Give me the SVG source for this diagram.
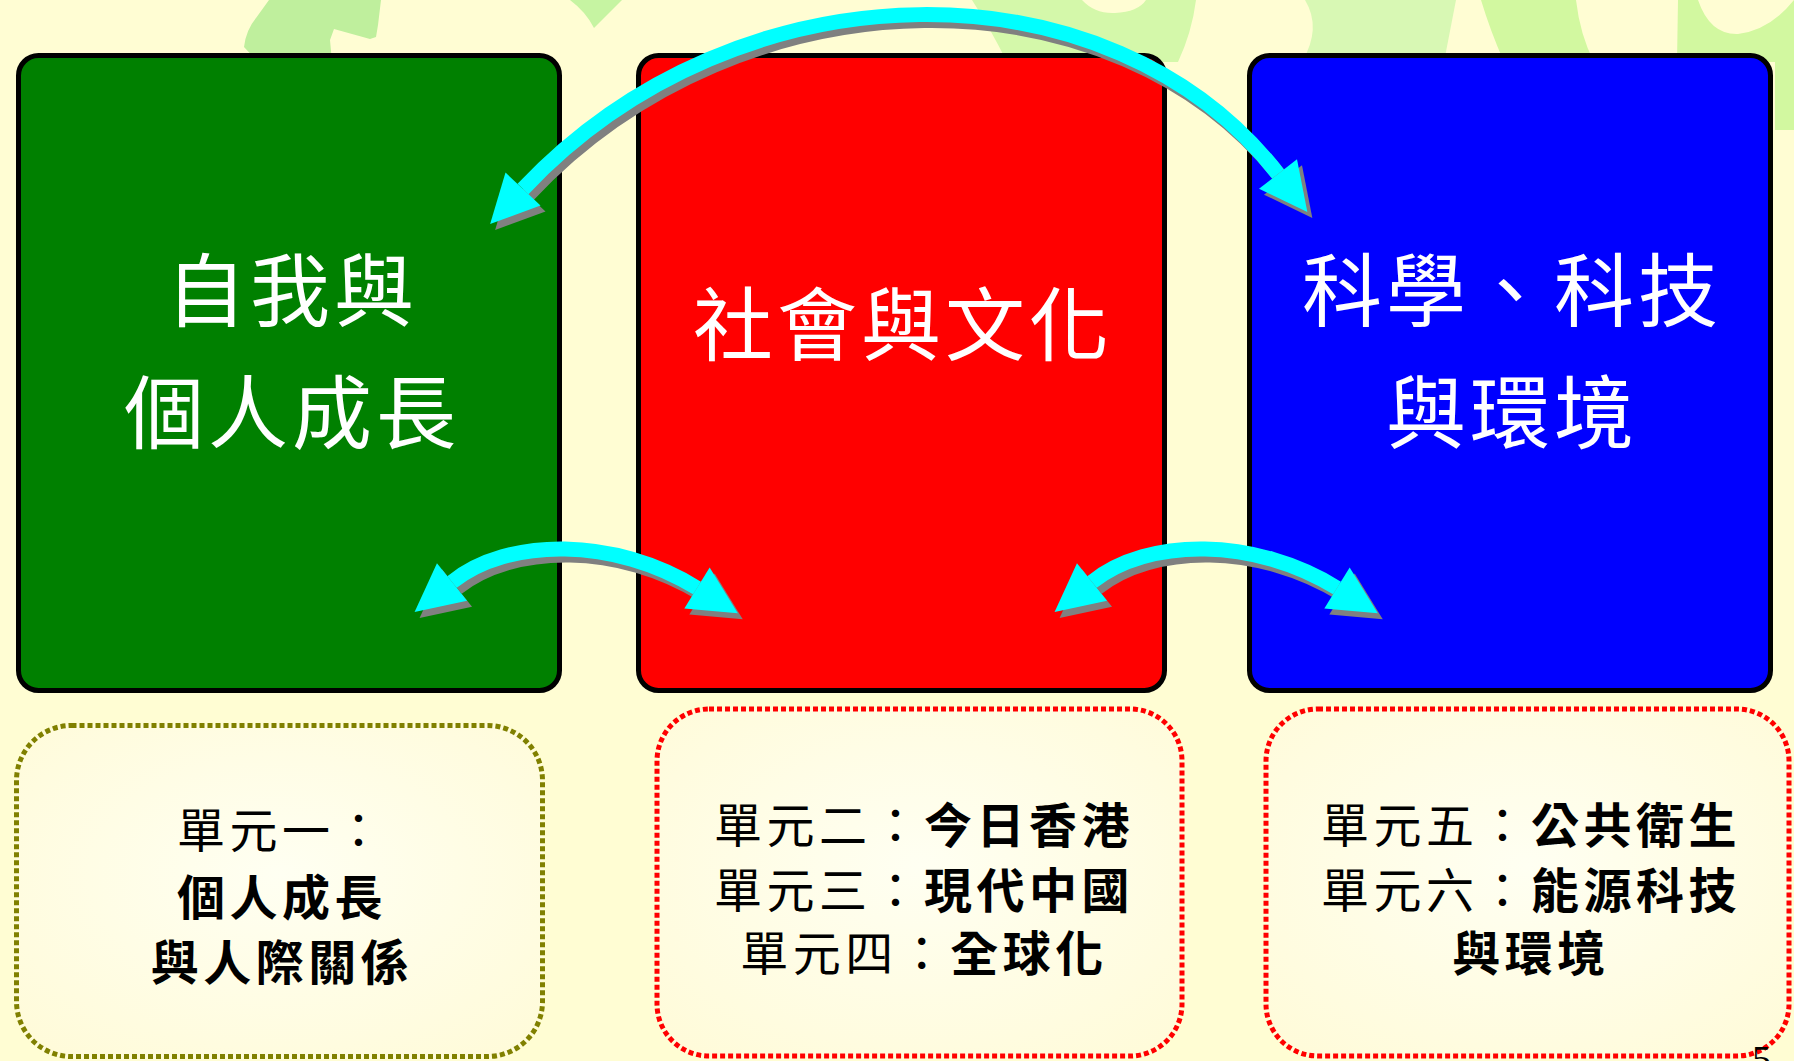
<svg xmlns="http://www.w3.org/2000/svg" width="1794" height="1061" viewBox="0 0 1794 1061">
<defs>
<style>
.bg{fill:#FFFDD3}
.leaf{stroke:none}
.card{stroke:#000;stroke-width:5}
.big{font-family:'Noto Sans CJK TC','Noto Sans CJK SC',sans-serif;font-size:80px;fill:#fff;text-anchor:middle;letter-spacing:4px}
.unit{fill:url(#unitFill);stroke-width:5;stroke-dasharray:5 3}
.sm{font-family:'Noto Sans CJK TC','Noto Sans CJK SC',sans-serif;font-size:48px;fill:#000;text-anchor:middle;letter-spacing:4.5px}
.b{font-weight:bold}
.band{fill:none;stroke-width:15}
.cy{stroke:#00FFFF}
.gy{stroke:#808080}
</style>
<radialGradient id="unitFill" cx="0.5" cy="0.45" r="0.7">
<stop offset="0" stop-color="#FFFFF2"/>
<stop offset="1" stop-color="#FFFBD9"/>
</radialGradient>
<marker id="headC" markerUnits="userSpaceOnUse" viewBox="0 -25 50 50" refX="0" refY="0" markerWidth="50" markerHeight="50" orient="auto-start-reverse" overflow="visible">
<path d="M0,-24 L48,0 L0,24 Z" fill="#00FFFF"/>
</marker>
<marker id="headG" markerUnits="userSpaceOnUse" viewBox="0 -25 50 50" refX="0" refY="0" markerWidth="50" markerHeight="50" orient="auto-start-reverse" overflow="visible">
<path d="M0,-24 L48,0 L0,24 Z" fill="#808080"/>
</marker>
</defs>

<rect class="bg" x="0" y="0" width="1794" height="1061"/>

<g id="background-leaves" class="leaf">
<path fill="#BFEF9D" d="M269,0 L381,0 L378,25 L376,37 L370,39 L334,29 L330,40 L332,62 L258,62 L244,47 Q246,30 256,18 Z"/>
<path fill="#C6F4A2" d="M570,0 Q586,12 594,28 L622,0 Z"/>
<path fill="#D4F8AA" d="M972,0 L1082,0 Q1095,14 1115,13 Q1138,12 1146,0 L1196,0 Q1192,32 1178,62 L1007,62 Q990,28 972,0 Z"/>
<path fill="#D8F8B4" d="M1305,0 L1456,0 L1444,62 L1302,62 Q1322,28 1305,0 Z"/>
<path fill="#D2F8A0" d="M1481,0 L1576,0 Q1580,35 1594,62 L1677,62 L1678,0 L1698,0 Q1710,35 1738,34 Q1770,30 1794,0 L1794,130 L1775,130 L1775,62 L1504,62 Q1490,30 1481,0 Z"/>
</g>

<g id="node-self">
<rect class="card" x="18.5" y="55.5" width="541" height="635" rx="20" fill="#008000"/>
<text class="big" x="292" y="320">自我與</text>
<text class="big" x="292" y="442">個人成長</text>
</g>

<g id="node-society">
<rect class="card" x="638.5" y="55.5" width="526" height="635" rx="20" fill="#FF0000"/>
<text class="big" x="903" y="354">社會與文化</text>
</g>

<g id="node-science">
<rect class="card" x="1249.5" y="55.5" width="521" height="635" rx="20" fill="#0000FF"/>
<text class="big" x="1512" y="320">科學、科技</text>
<text class="big" x="1512" y="442">與環境</text>
</g>

<g id="unit-1">
<rect class="unit" x="16.5" y="725.5" width="526" height="331" rx="55" stroke="#808000"/>
<text class="sm" x="282" y="848">單元一：</text>
<text class="sm b" x="282" y="915">個人成長</text>
<text class="sm b" x="282" y="980">與人際關係</text>
</g>

<g id="unit-2">
<rect class="unit" x="657" y="709" width="525" height="347" rx="52" stroke="#FF0000"/>
<text class="sm" x="924" y="843">單元二：<tspan class="b">今日香港</tspan></text>
<text class="sm" x="924" y="908">單元三：<tspan class="b">現代中國</tspan></text>
<text class="sm" x="924" y="971">單元四：<tspan class="b">全球化</tspan></text>
</g>

<g id="unit-3">
<rect class="unit" x="1266" y="709" width="523" height="347" rx="52" stroke="#FF0000"/>
<text class="sm" x="1531" y="843">單元五：<tspan class="b">公共衛生</tspan></text>
<text class="sm" x="1531" y="908">單元六：<tspan class="b">能源科技</tspan></text>
<text class="sm b" x="1531" y="971">與環境</text>
<text x="1752" y="1072" font-family="'Liberation Serif',serif" font-size="38" fill="#000">5</text>
</g>

<g id="connectors">
<g transform="translate(5,6)">
<path class="band gy" d="M523,189 C739,-41 1112,-41 1278,174" marker-start="url(#headG)" marker-end="url(#headG)"/>
<path class="band gy" d="M452,582 C508,537 615,537 697,588" marker-start="url(#headG)" marker-end="url(#headG)"/>
<path class="band gy" d="M1092,582 C1148,537 1255,537 1337,588" marker-start="url(#headG)" marker-end="url(#headG)"/>
</g>
<path class="band cy" d="M523,189 C739,-41 1112,-41 1278,174" marker-start="url(#headC)" marker-end="url(#headC)"/>
<path class="band cy" d="M452,582 C508,537 615,537 697,588" marker-start="url(#headC)" marker-end="url(#headC)"/>
<path class="band cy" d="M1092,582 C1148,537 1255,537 1337,588" marker-start="url(#headC)" marker-end="url(#headC)"/>
</g>
</svg>
